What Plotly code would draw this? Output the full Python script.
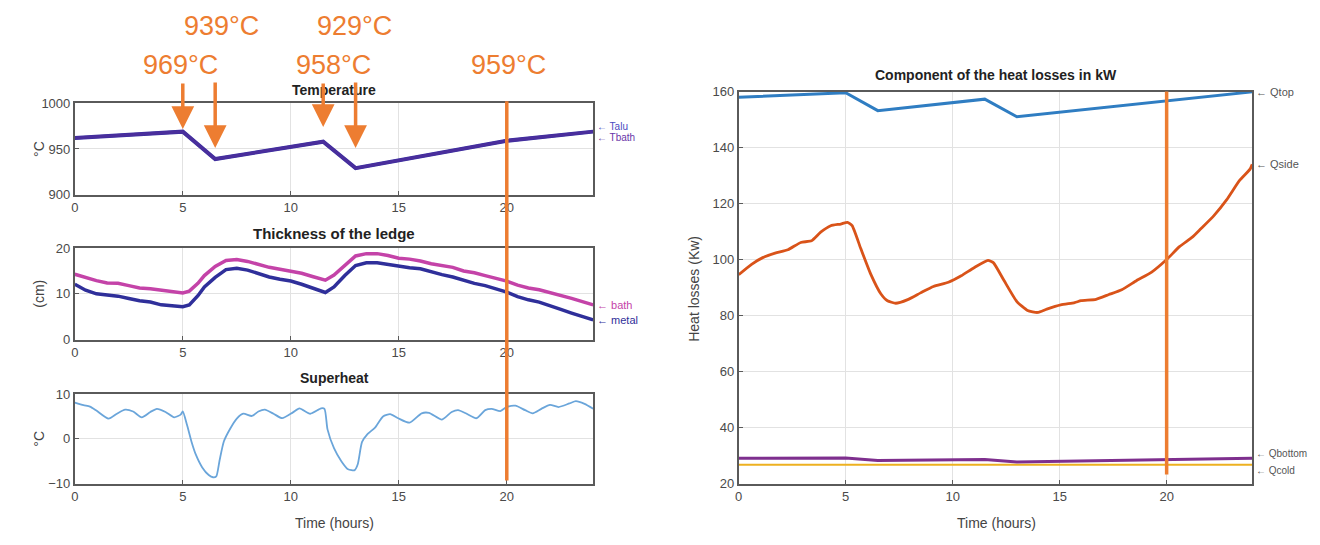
import plotly.graph_objects as go

# ---------------- data ----------------
temp_t = [0, 5, 6.5, 11.5, 13, 20, 24]
temp_bath = [962, 969, 939, 958, 929, 959, 969]
temp_alu = [962, 969, 939, 958, 929, 959, 969]

ledge_t = [0, 0.5, 1, 1.5, 2, 2.5, 3, 3.5, 4, 4.5, 5, 5.3, 5.7, 6, 6.5, 7, 7.5, 8, 8.5, 9, 9.5, 10, 10.5, 11,
           11.6, 12, 12.5, 13, 13.5, 14, 14.5, 15, 15.5, 16, 16.5, 17, 17.5, 18, 18.5, 19, 19.5, 20, 20.5, 21,
           21.5, 22, 22.5, 23, 23.5, 24]
ledge_bath = [14.3, 13.5, 12.9, 12.4, 12.3, 11.8, 11.3, 11.1, 10.8, 10.4, 10.2, 10.6, 12.3, 14.0, 16.0, 17.3, 17.5,
              17.1, 16.5, 15.8, 15.4, 15.0, 14.5, 13.8, 13.0, 14.1, 16.3, 18.3, 18.8, 18.8, 18.4, 17.8, 17.6,
              17.2, 16.6, 16.2, 15.8, 15.0, 14.6, 14.0, 13.4, 12.8, 11.9, 11.3, 10.9, 10.3, 9.6, 9.0, 8.3, 7.6]
ledge_metal = [12.1, 10.8, 10.0, 9.7, 9.5, 9.0, 8.5, 8.2, 7.6, 7.4, 7.2, 7.6, 9.6, 11.5, 13.6, 15.3, 15.6,
               15.2, 14.4, 13.7, 13.2, 12.8, 12.1, 11.2, 10.3, 11.5, 14.0, 16.2, 16.8, 16.8, 16.4, 16.0, 15.7,
               15.5, 14.8, 14.2, 13.7, 13.0, 12.3, 11.8, 11.1, 10.4, 9.4, 8.7, 8.2, 7.5, 6.6, 5.8, 5.0, 4.3]

sh_t = [0.0, 0.4, 0.7, 1.0, 1.56, 1.95, 2.33, 2.7, 3.1, 3.5, 3.8, 4.2, 4.6, 4.9, 5.0, 5.2, 5.4, 5.6, 5.9, 6.2,
        6.4, 6.55, 6.7, 6.9, 7.2, 7.5, 7.8, 8.2, 8.5, 8.8, 9.2, 9.6, 10.1, 10.4, 10.9, 11.4, 11.56, 11.7, 12.0,
        12.34, 12.65, 12.96, 13.1, 13.3, 13.56, 13.9, 14.27, 14.6, 14.97, 15.5, 16.06, 16.4, 17.0, 17.45, 17.75,
        18.1, 18.6, 19.0, 19.3, 19.7, 20.0, 20.4, 20.85, 21.2, 21.6, 22.0, 22.4, 22.9, 23.2, 23.6, 24.0]
superheat = [8.1, 7.5, 7.2, 6.3, 4.5, 5.6, 6.5, 6.1, 4.8, 6.0, 6.7, 6.0, 4.8, 5.4, 6.1, 3.0, -0.6, -3.5, -6.4,
             -8.1, -8.6, -8.4, -4.9, -0.6, 2.3, 4.5, 5.6, 5.1, 6.1, 6.5, 5.6, 4.6, 5.9, 6.8, 5.6, 6.8, 6.7, 2.1,
             -2.1, -5.0, -6.8, -7.0, -5.7, -0.7, 1.1, 2.5, 5.0, 5.5, 4.6, 3.6, 5.7, 5.8, 4.3, 6.0, 6.4, 5.7, 4.6,
             6.4, 6.7, 6.2, 7.1, 7.4, 6.4, 5.7, 6.7, 7.6, 7.1, 7.9, 8.4, 7.8, 6.7]

q_t = [0, 5, 6.5, 11.5, 13, 24]
q_top = [158.0, 159.6, 153.2, 157.3, 151.0, 159.9]
q_bottom = [29.0, 29.1, 28.2, 28.6, 27.7, 29.0]
q_cold = [26.7, 26.7, 26.7, 26.7, 26.7, 26.7]

qs_t = [0, 0.6, 1.1, 1.7, 2.3, 2.9, 3.4, 3.83, 4.3, 4.77, 5.08, 5.3, 5.7, 6.17, 6.64, 6.95, 7.34, 7.9, 8.5,
        9.1, 9.8, 10.4, 11.0, 11.65, 11.9, 12.4, 13.0, 13.5, 13.97, 14.4, 15.05, 15.7, 16.0, 16.7, 17.3, 17.9,
        18.6, 19.3, 20.0, 20.6, 21.2, 21.6, 22.2, 22.8, 23.4, 23.9, 24]
q_side = [94.6, 98.3, 100.6, 102.3, 103.5, 106.1, 106.7, 109.8, 112.1, 112.7, 113.3, 112.1, 104.0, 94.8, 87.8,
          85.3, 84.4, 85.7, 88.1, 90.4, 91.9, 94.2, 97.1, 99.7, 98.9, 92.5, 85.0, 81.8, 81.1, 82.3, 83.8, 84.6,
          85.3, 85.8, 87.5, 89.2, 92.5, 95.5, 100.0, 104.6, 108.0, 111.0, 115.6, 121.3, 128.2, 132.3, 134.0]

# ---------------- styling ----------------
FONT = "Liberation Sans, Arial, sans-serif"
ORANGE = "#ED7D31"

fig = go.Figure()

fig.add_trace(go.Scatter(x=temp_t, y=temp_alu, mode="lines", line=dict(color="#3A2FA0", width=4),
                         xaxis="x", yaxis="y"))
fig.add_trace(go.Scatter(x=temp_t, y=temp_bath, mode="lines", line=dict(color="#4A2E9C", width=3),
                         xaxis="x", yaxis="y"))
fig.add_trace(go.Scatter(x=ledge_t, y=ledge_bath, mode="lines", line=dict(color="#C443A8", width=3.5),
                         xaxis="x2", yaxis="y2"))
fig.add_trace(go.Scatter(x=ledge_t, y=ledge_metal, mode="lines", line=dict(color="#2F2F9A", width=3.5),
                         xaxis="x2", yaxis="y2"))
fig.add_trace(go.Scatter(x=sh_t, y=superheat, mode="lines",
                         line=dict(color="#6AA5DA", width=1.8, shape="spline", smoothing=0.6),
                         xaxis="x3", yaxis="y3"))
fig.add_trace(go.Scatter(x=q_t, y=q_top, mode="lines", line=dict(color="#2F7DC2", width=3),
                         xaxis="x4", yaxis="y4"))
fig.add_trace(go.Scatter(x=qs_t, y=q_side, mode="lines",
                         line=dict(color="#D95319", width=2.8, shape="spline", smoothing=0.5),
                         xaxis="x4", yaxis="y4"))
fig.add_trace(go.Scatter(x=q_t, y=q_cold, mode="lines", line=dict(color="#EDB120", width=2.2),
                         xaxis="x4", yaxis="y4"))
fig.add_trace(go.Scatter(x=q_t, y=q_bottom, mode="lines", line=dict(color="#7E2F8E", width=3),
                         xaxis="x4", yaxis="y4"))

axis_common = dict(showline=True, mirror=True, linecolor="#5a5a5a", linewidth=1.8, ticks="inside",
                   ticklen=4, tickcolor="#5a5a5a", showgrid=True, gridcolor="#e2e2e2", gridwidth=1,
                   zeroline=False, tickfont=dict(family=FONT, size=13, color="#4a4a4a"))

LX = [0.0538, 0.4477]
RX = [0.5583, 0.9485]
xticks = [0, 5, 10, 15, 20]

fig.update_layout(
    width=1320, height=545, margin=dict(l=0, r=0, t=0, b=0),
    paper_bgcolor="white", plot_bgcolor="white", showlegend=False,
    font=dict(family=FONT, color="#333"),
    xaxis=dict(domain=LX, anchor="y", range=[0, 24], tickvals=xticks, **axis_common),
    yaxis=dict(domain=[0.6459, 0.8183], anchor="x", range=[900, 1000], tickvals=[900, 950, 1000], **axis_common),
    xaxis2=dict(domain=LX, anchor="y2", range=[0, 24], tickvals=xticks, **axis_common),
    yaxis2=dict(domain=[0.3725, 0.545], anchor="x2", range=[0, 20], tickvals=[0, 10, 20], **axis_common),
    xaxis3=dict(domain=LX, anchor="y3", range=[0, 24], tickvals=xticks, **axis_common),
    yaxis3=dict(domain=[0.1009, 0.2697], anchor="x3", range=[-10, 10], tickvals=[-10, 0, 10], **axis_common),
    xaxis4=dict(domain=RX, anchor="y4", range=[0, 24], tickvals=xticks, **axis_common),
    yaxis4=dict(domain=[0.1009, 0.8404], anchor="x4", range=[20, 160],
                tickvals=[20, 40, 60, 80, 100, 120, 140, 160], **axis_common),
)

# vertical orange markers at t = 20 h
fig.add_shape(type="line", xref="x", yref="paper", x0=20, x1=20, y0=0.1064, y1=0.822,
              line=dict(color=ORANGE, width=3.5))
fig.add_shape(type="line", xref="x4", yref="paper", x0=20, x1=20, y0=0.118, y1=0.8404,
              line=dict(color=ORANGE, width=3.5))

ann = []
def txt(x, y, s, size=13, bold=False, color="#222", angle=0):
    ann.append(dict(xref="paper", yref="paper", x=x, y=y, text=(f"<b>{s}</b>" if bold else s),
                    showarrow=False, textangle=angle, xanchor="center", yanchor="middle",
                    font=dict(family=FONT, size=size, color=color)))

txt(0.2508, 0.844, "Temperature", 14, True)
txt(0.2508, 0.5725, "Thickness of the ledge", 15, True)
txt(0.2508, 0.3009, "Superheat", 14, True)
txt(0.7538, 0.8716, "Component of the heat losses in kW", 14, True)
txt(0.2508, 0.0257, "Time (hours)", 14, False, "#444")
txt(0.7538, 0.0257, "Time (hours)", 14, False, "#444")
txt(0.0265, 0.732, "°C", 14, False, "#444", -90)
txt(0.0265, 0.4587, "(cm)", 14, False, "#444", -90)
txt(0.0265, 0.1853, "°C", 14, False, "#444", -90)
txt(0.5242, 0.468, "Heat losses (Kw)", 14, False, "#444", -90)

# orange temperature call-outs
for x, y, s in [(0.1341, 0.8899, "969°C"), (0.1652, 0.9633, "939°C"), (0.25, 0.8899, "958°C"),
                (0.2667, 0.9633, "929°C"), (0.3833, 0.8899, "959°C")]:
    txt(x, y, s, 27, False, ORANGE)

for x, y, ay in [(5, 972, -47), (6.5, 951, -67), (11.5, 974, -45), (13, 951, -67)]:
    ann.append(dict(xref="x", yref="y", x=x, y=y, ax=0, ay=ay, text="", showarrow=True,
                    arrowhead=2, arrowsize=1.3, arrowwidth=3.5, arrowcolor=ORANGE))

def end_label(xr, yr, x, y, s, color, yshift=0, size=11):
    ann.append(dict(xref=xr, yref=yr, x=x, y=y, text="\u2190 " + s, showarrow=False,
                    xanchor="left", yanchor="middle", xshift=2, yshift=yshift,
                    font=dict(family=FONT, size=size, color=color)))

end_label("x", "y", temp_t[-1], temp_alu[-1], "Talu", "#4b4bbf", 5, 10)
end_label("x", "y", temp_t[-1], temp_bath[-1], "Tbath", "#6a35a8", -6, 10)
end_label("x2", "y2", ledge_t[-1], ledge_bath[-1], "bath", "#C443A8")
end_label("x2", "y2", ledge_t[-1], ledge_metal[-1], "metal", "#2F2F9A")
end_label("x4", "y4", q_t[-1], q_top[-1], "Qtop", "#555")
end_label("x4", "y4", qs_t[-1], q_side[-1], "Qside", "#555")
end_label("x4", "y4", q_t[-1], q_bottom[-1], "Qbottom", "#555", 5, 10)
end_label("x4", "y4", q_t[-1], q_cold[-1], "Qcold", "#555", -6, 10)

fig.update_layout(annotations=ann)
fig.write_html("out.html")
